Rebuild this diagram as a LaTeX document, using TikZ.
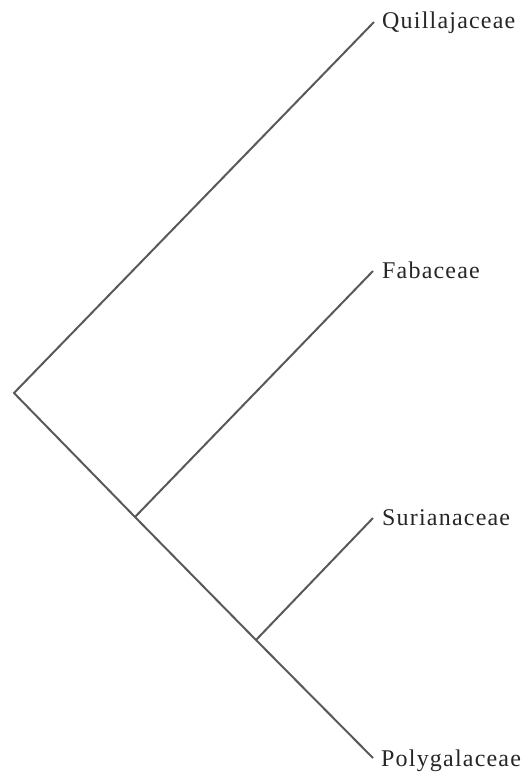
\documentclass[tikz,border=0pt]{standalone}
\usepackage{fontspec}
\setmainfont{Liberation Serif}[LetterSpace=5]
\begin{document}
\begin{tikzpicture}[x=1pt,y=-1pt,
  branch/.style={draw=black!65,line width=2pt},
  taxon/.style={anchor=base west,inner sep=0pt,font=\fontsize{24}{26}\selectfont,text=black!85}]
\useasboundingbox (0,0) rectangle (528,780);
\coordinate (root) at (14,393);
\coordinate (n1) at (135,517);
\coordinate (n2) at (256,640);
\coordinate (tQ) at (374,22);
\coordinate (tF) at (373,271);
\coordinate (tS) at (373,518);
\coordinate (tP) at (373,758);
\draw[branch] (tQ) -- (root) -- (n1) -- (n2) -- (tP);
\draw[branch] (n1) -- (tF);
\draw[branch] (n2) -- (tS);
\node[taxon] (lQ) at (382,28) {Quillajaceae};
\node[taxon] (lF) at (382,278) {Fabaceae};
\node[taxon] (lS) at (382,525) {Surianaceae};
\node[taxon] (lP) at (381,766) {Polygalaceae};
\end{tikzpicture}
\end{document}
